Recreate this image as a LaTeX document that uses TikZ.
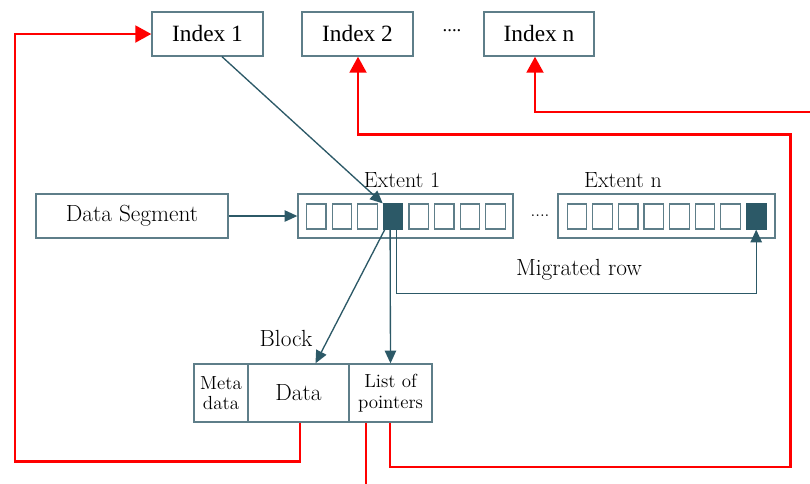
\documentclass[tikz,border=0pt]{standalone}
\usepackage{fontspec}
\newfontfamily\timesfont{Liberation Serif}
\usetikzlibrary{arrows.meta,calc}

\definecolor{slate}{HTML}{2C5967}
\definecolor{boxline}{HTML}{5E7E89}
\definecolor{linkred}{HTML}{FF0000}

\tikzset{
  box/.style={draw=boxline, line width=1pt, fill=white, inner sep=0pt,
    minimum height=44*0.75pt, align=center},
  idxbox/.style={box, font=\timesfont\fontsize{17.5}{19}\selectfont},
  lbl/.style={font=\fontsize{17.5}{19}\selectfont, inner sep=0pt},
  extlbl/.style={font=\fontsize{16.5}{18}\selectfont, inner sep=0pt},
  small/.style={font=\fontsize{14.2}{16.5}\selectfont},
  cell/.style={draw=boxline, line width=0.9pt, inner sep=0pt,
    minimum width=19.5*0.75pt, minimum height=25*0.75pt},
  fullcell/.style={cell, draw=slate, fill=slate},
  darrow/.style={draw=slate, line width=1pt,
    -{Triangle[length=9.5pt,width=8.5pt]}},
  rarrow/.style={draw=linkred, line width=2.2pt,
    -{Triangle[length=12pt,width=12.5pt]}},
  rline/.style={draw=linkred, line width=2.2pt},
}

\begin{document}
\begin{tikzpicture}[x=0.75pt, y=-0.75pt]
\useasboundingbox (0,0) rectangle (810,483);

% index row
\node[idxbox, minimum width=111*0.75pt] (idx1) at (207.5,34) {Index 1};
\node[idxbox, minimum width=111*0.75pt] (idx2) at (357.5,34) {Index 2};
\node[lbl, font=\timesfont\fontsize{14}{16}\selectfont] (idxdots) at (452,31) {....};
\node[idxbox, minimum width=110*0.75pt] (idxn) at (539,34) {Index n};

% data segment and extents
\node[box, lbl, minimum width=192*0.75pt] (seg) at (132,216) {Data Segment};
\node[box, minimum width=215*0.75pt] (ext1) at (405.5,216) {};
\node[box, minimum width=217*0.75pt] (extn) at (666.5,216) {};
\node[extlbl] (ext1lbl) at (402,180) {Extent 1};
\node[extlbl] (extnlbl) at (623,180) {Extent n};
\node[lbl, font=\fontsize{13}{15}\selectfont] (extdots) at (540,216) {....};

% cells of extent 1 (the fourth one is occupied)
\foreach \k in {0,1,2,4,5,6,7}
  \node[cell] (a\k) at (316.3+25.6*\k,216.5) {};
\node[fullcell] (a3) at (316.3+25.6*3,216.5) {};

% cells of extent n (the last one holds the migrated row)
\foreach \k in {0,...,6}
  \node[cell] (b\k) at (577+25.6*\k,216.5) {};
\node[fullcell] (b7) at (577+25.6*7,216.5) {};

% block
\node[box, small, minimum width=54*0.75pt, minimum height=58*0.75pt] (meta) at (221,393) {Meta\\[-1pt]data};
\node[box, lbl, minimum width=101*0.75pt, minimum height=58*0.75pt] (data) at (298.5,393) {Data};
\node[box, small, minimum width=83*0.75pt, minimum height=58*0.75pt] (ptrs) at (390.5,393) {List of\\[-1pt]pointers};
\node[lbl] (blocklbl) at (286,338) {Block};
\node[lbl] (miglbl) at (579,270) {Migrated row};

% dark connectors
\draw[darrow] ($(idx1.south)+(14.5,0)$) -- (a3.north west);
\draw[darrow] (seg.east) -- (ext1.west);
\draw[darrow] ($(a3.south west)+(2,0)$) -- ($(data.north)+(17,0)$);
\draw[darrow] ($(a3.south)+(-3,0)$) -- (ptrs.north);
\draw[darrow] ($(a3.south)+(3.5,0)$) -- ++(0,64) -| (b7.south);

% red links back to the indexes
\coordinate (leftturn) at (15,461.5);
\coordinate (rightturn) at (790.5,467);
\coordinate (topturn) at (358,134.5);
\coordinate (edgein) at (812,112);
\coordinate (edgeout) at (366,490);
\draw[rarrow] ($(data.south)+(1.5,0)$) |- (leftturn) |- (idx1.west);
\draw[rline] ($(ptrs.south)+(-24.5,0)$) -- (edgeout);
\draw[rarrow] ($(ptrs.south)+(-0.5,0)$) |- (rightturn) |- (topturn) -- (topturn |- idx2.south);
\draw[rarrow] (edgein) -| ($(idxn.south)+(-4,0)$);
\end{tikzpicture}
\end{document}
